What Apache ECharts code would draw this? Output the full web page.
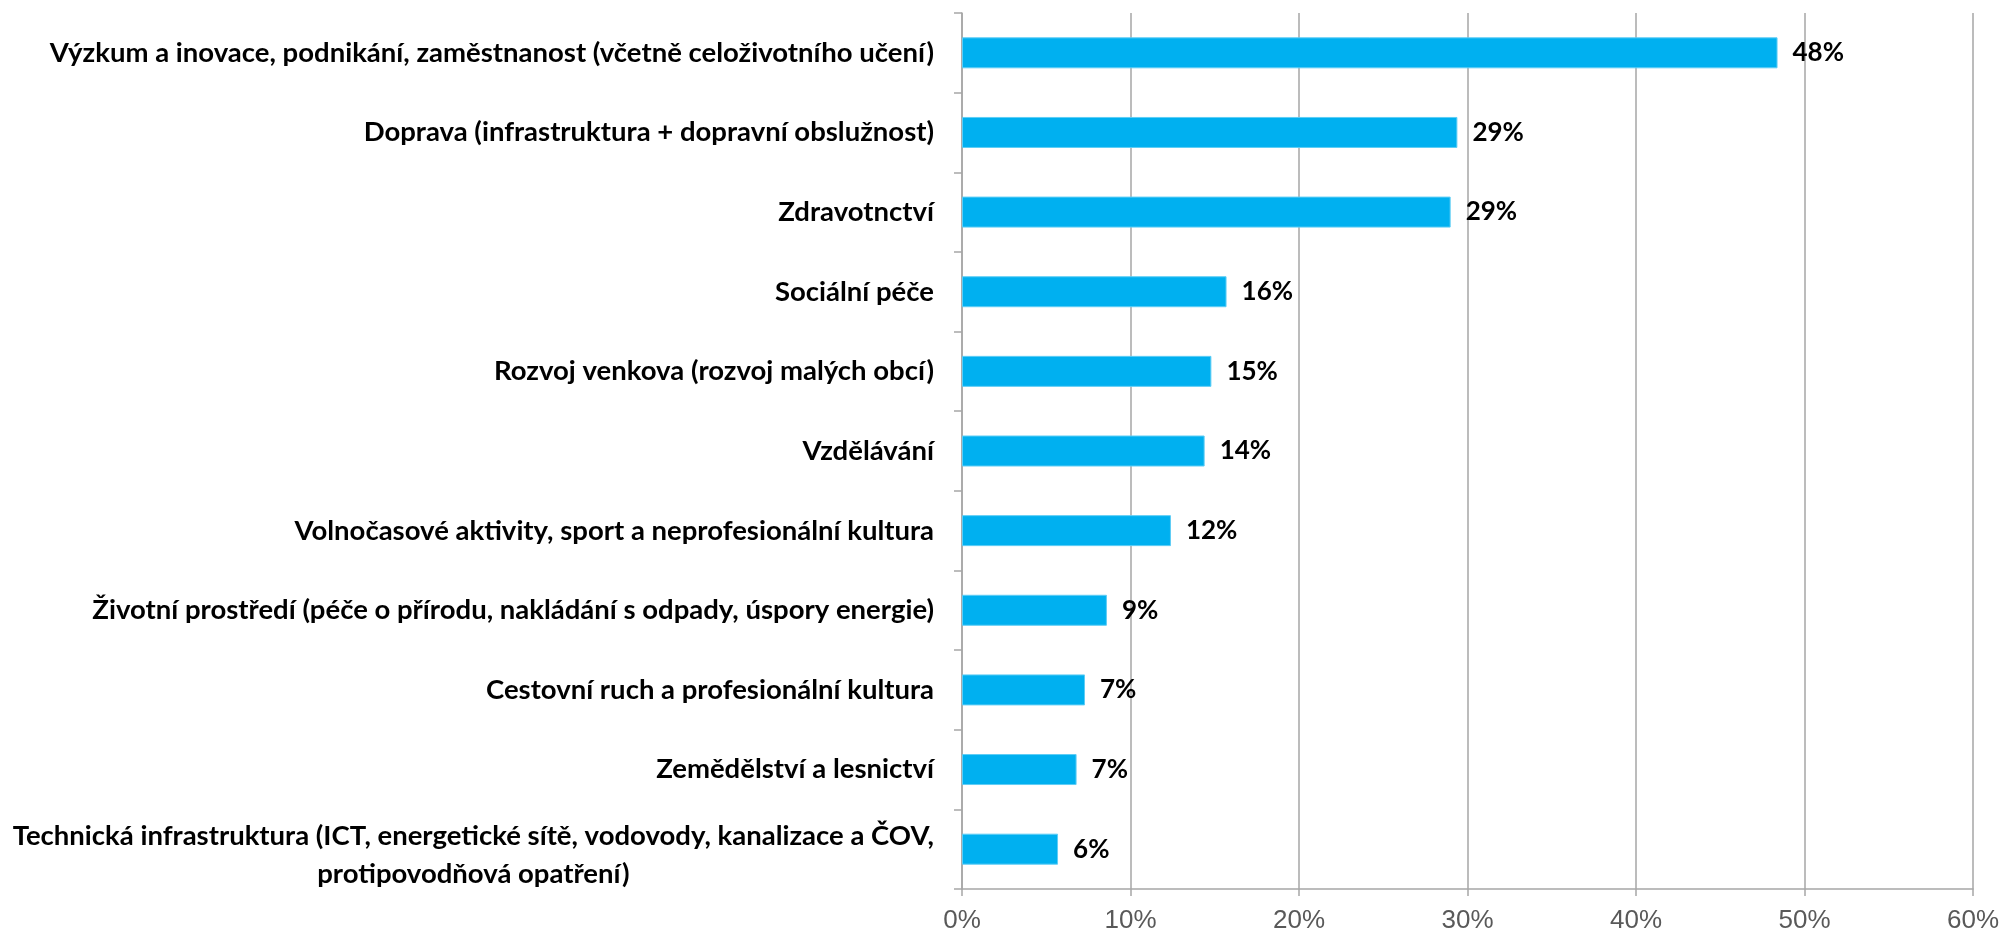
<!DOCTYPE html>
<html>
<head>
<meta charset="utf-8">
<script src="https://cdn.jsdelivr.net/npm/echarts@6/dist/echarts.min.js"></script>
<style>
  html, body { margin: 0; padding: 0; background: #fff; }
  #chart { width: 2003px; height: 934px; }
</style>
</head>
<body>
<div id="chart"></div>
<script>
// Oblasti (shora dolů) a podíl odpovědí v %
const categories = [
  'Výzkum a inovace, podnikání, zaměstnanost (včetně celoživotního učení)',
  'Doprava (infrastruktura + dopravní obslužnost)',
  'Zdravotnctví',
  'Sociální péče',
  'Rozvoj venkova (rozvoj malých obcí)',
  'Vzdělávání',
  'Volnočasové aktivity, sport a neprofesionální kultura',
  'Životní prostředí (péče o přírodu, nakládání s odpady, úspory energie)',
  'Cestovní ruch a profesionální kultura',
  'Zemědělství a lesnictví',
  'Technická infrastruktura (ICT, energetické sítě, vodovody, kanalizace a ČOV, protipovodňová opatření)'
];
const values = [48.4, 29.4, 29.0, 15.7, 14.8, 14.4, 12.4, 8.6, 7.3, 6.8, 5.7];
const axisMin = 0;
const axisMax = 60;
const axisStep = 10;

const LABEL_FONT = 'Lato, "Open Sans", sans-serif';
const CAT_SIZE = 27.5;
const GRID_GRAY = '#a6a6a6';

// Dlouhé popisky zalomit za čárkou před "protipovodňová"
function wrapLabel(name) {
  const cut = name.indexOf(' protipovodňová');
  if (cut > 0) {
    return '{a|' + name.slice(0, cut) + '}\n{b|' + name.slice(cut + 1) + '}';
  }
  return name;
}

const wrapStyle = {
  align: 'center',
  color: '#000',
  fontFamily: LABEL_FONT,
  fontWeight: 'bold',
  fontSize: CAT_SIZE
};

const chart = echarts.init(document.getElementById('chart'), null, { renderer: 'canvas' });
chart.setOption({
  backgroundColor: '#ffffff',
  animation: false,
  grid: { left: 962, right: 30, top: 13, bottom: 43, containLabel: false },
  xAxis: {
    type: 'value',
    min: axisMin,
    max: axisMax,
    interval: axisStep,
    axisLine: { show: true, lineStyle: { color: GRID_GRAY, width: 1.5 } },
    axisTick: { show: true, length: 7, lineStyle: { color: GRID_GRAY, width: 1.5 } },
    splitLine: { show: true, lineStyle: { color: GRID_GRAY, width: 1.5 } },
    axisLabel: {
      formatter: '{value}%',
      color: '#595959',
      fontFamily: '"Liberation Sans", Arial, sans-serif',
      fontSize: 26,
      margin: 19
    }
  },
  yAxis: {
    type: 'category',
    data: categories,
    inverse: true,
    axisLine: { show: true, lineStyle: { color: GRID_GRAY, width: 1.5 } },
    axisTick: { show: true, length: 8, interval: 0, lineStyle: { color: GRID_GRAY, width: 1.5 } },
    axisLabel: {
      interval: 0,
      margin: 28,
      color: '#000',
      fontFamily: LABEL_FONT,
      fontWeight: 'bold',
      fontSize: CAT_SIZE,
      formatter: wrapLabel,
      rich: {
        a: Object.assign({ lineHeight: 50 }, wrapStyle),
        b: Object.assign({ lineHeight: 26 }, wrapStyle)
      }
    }
  },
  series: [{
    type: 'bar',
    data: values,
    barWidth: 31,
    itemStyle: { color: '#00b0f0', borderColor: '#5fcdf5', borderWidth: 1 },
    label: {
      show: true,
      position: 'right',
      distance: 15,
      color: '#000',
      fontFamily: LABEL_FONT,
      fontWeight: 'bold',
      fontSize: 26,
      formatter: p => Math.round(p.value) + '%'
    }
  }]
});
</script>
</body>
</html>
